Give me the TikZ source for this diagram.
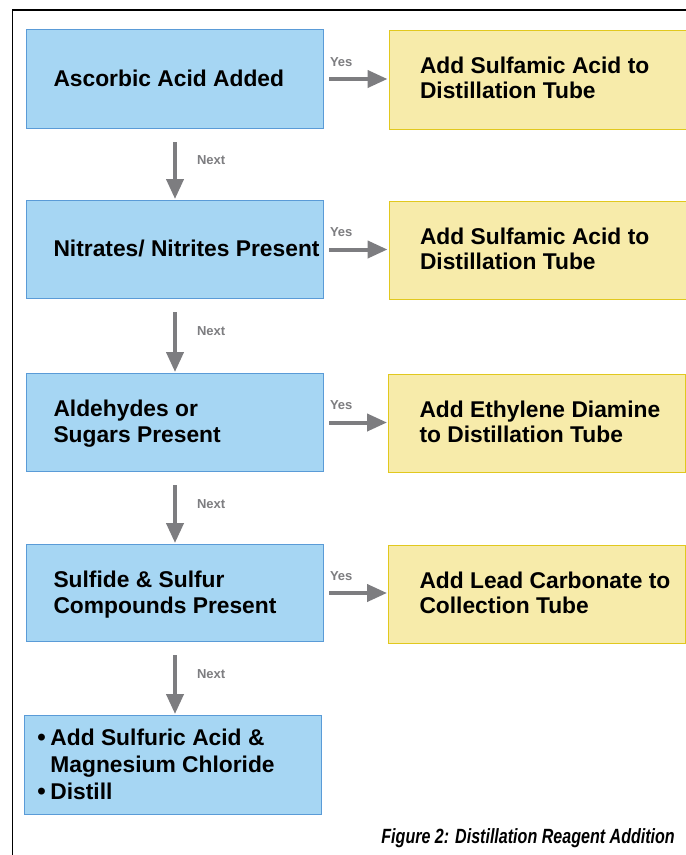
\documentclass[tikz,border=0pt]{standalone}
\usepackage{fontspec}
\setmainfont{Liberation Sans}
\usetikzlibrary{arrows.meta}
\definecolor{bluefill}{RGB}{166,214,243}
\definecolor{blueline}{RGB}{90,155,215}
\definecolor{yelfill}{RGB}{247,235,170}
\definecolor{yelline}{RGB}{225,200,30}
\definecolor{arrgray}{RGB}{125,125,128}
\begin{document}
\begin{tikzpicture}[x=1pt,y=-1pt,
  bluebox/.style={draw=blueline, line width=1pt, fill=bluefill, anchor=north west, inner ysep=0pt, inner xsep=27pt, minimum width=297pt},
  yelbox/.style={draw=yelline, line width=1pt, fill=yelfill, anchor=north west, inner ysep=0pt, inner xsep=31pt, minimum width=297pt},
  flowarr/.style={draw=arrgray, line width=4pt, -{Triangle[length=20pt,width=17pt]}},
  lbl/.style={text=arrgray, font=\bfseries\fontsize{13}{15}\selectfont, inner sep=0pt}
]
\useasboundingbox (0,0) rectangle (686,855);
\fill[white] (0,0) rectangle (686,855);
\draw[line width=1.5pt] (12.5,855) -- (12.5,10) -- (686,10);

\newcommand{\btext}[1]{\makebox[243pt][l]{\raisebox{-2pt}[\height][\depth]{\bfseries\fontsize{22.8}{26}\selectfont\begin{tabular}{@{}l@{}}#1\end{tabular}}}}
\newcommand{\ytext}[1]{\makebox[235pt][l]{\raisebox{-1pt}[\height][\depth]{\bfseries\fontsize{22.8}{25}\selectfont\begin{tabular}{@{}l@{}}#1\end{tabular}}}}

\node[bluebox, minimum height=99pt] (b1) at (26,29) {\btext{Ascorbic Acid Added}};
\node[yelbox, minimum height=99pt] (y1) at (388.5,30) {\ytext{Add Sulfamic Acid to\\Distillation Tube}};
\node[bluebox, minimum height=98pt] (b2) at (26,200) {\btext{Nitrates/ Nitrites Present}};
\node[yelbox, minimum height=98pt] (y2) at (388.5,201) {\ytext{Add Sulfamic Acid to\\Distillation Tube}};
\node[bluebox, minimum height=98pt] (b3) at (26,373) {\btext{Aldehydes or\\Sugars Present}};
\node[yelbox, minimum height=98pt] (y3) at (388,374) {\ytext{Add Ethylene Diamine\\to Distillation Tube}};
\node[bluebox, minimum height=97pt] (b4) at (26,544) {\btext{Sulfide \& Sulfur\\Compounds Present}};
\node[yelbox, minimum height=98pt] (y4) at (388,545) {\ytext{Add Lead Carbonate to\\Collection Tube}};
\node[bluebox, minimum height=99pt, inner xsep=13pt] (b5) at (24,715) {\makebox[271pt][l]{\raisebox{-2pt}[\height][\depth]{\bfseries\fontsize{22.8}{27}\selectfont\begin{tabular}{@{}l@{\hspace{4.5pt}}l@{}}{\fontsize{24}{27}\selectfont\textbullet} & Add Sulfuric Acid \&\\ & Magnesium Chloride\\ {\fontsize{24}{27}\selectfont\textbullet} & Distill\end{tabular}}}};

% Yes arrows
\foreach \b/\y in {b1/y1,b2/y2,b3/y3,b4/y4}{
  \draw[flowarr, shorten <=5pt, shorten >=1pt] (\b.east) -- (\y.west |- \b.east)
    node[pos=0, anchor=base west, lbl, xshift=4pt, yshift=13pt] {Yes};
}
% Next arrows
\foreach \a/\c in {b1/b2,b2/b3,b3/b4,b4/b5}{
  \draw[flowarr, shorten <=13pt, shorten >=1pt] (\a.south) -- (\a.south |- \c.north)
    node[pos=0.44, anchor=west, lbl, xshift=20pt] {Next};
}

\node[anchor=base east, inner sep=0pt] (cap) at (675,843) {\scalebox{0.78}[1]{\bfseries\itshape\fontsize{20.6}{23}\selectfont Figure 2: Distillation Reagent Addition}};
\end{tikzpicture}
\end{document}
